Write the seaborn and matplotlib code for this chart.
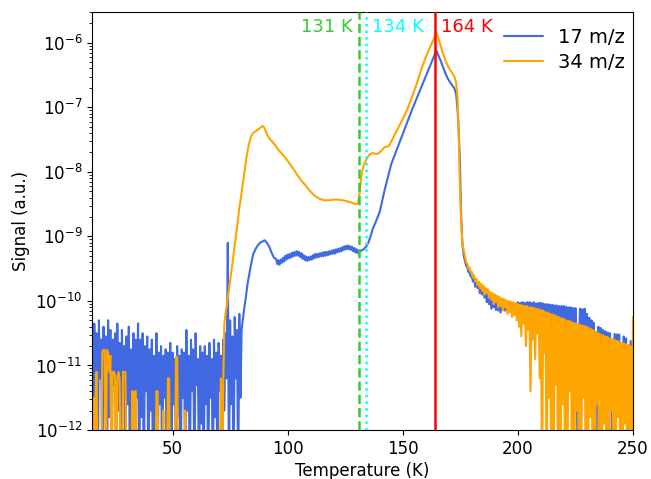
import numpy as np
import pandas as pd
import matplotlib
matplotlib.use("Agg")
import matplotlib.pyplot as plt
import seaborn as sns

B = -13.0  # readings at or below zero (shown at the bottom of the log axis)

# ---------------- 17 m/z (log10 of signal) ----------------
blue_noise_T = np.arange(15.0, 80.0, 0.5)
blue_noise_log = [
    -10.45, B, -10.35, -11.6, -10.5, B, -10.3, -11.2, -10.6, B,
    -10.4, -11.5, -10.55, B, -10.3, -11.8, -10.45, B, -10.6, -11.3,
    -10.5, B, -10.35, -11.7, -10.65, B, -10.45, -11.4, -10.7, B,
    -10.55, -11.6, -10.4, B, -10.75, -11.9, -10.5, B, -10.6, -11.5,
    -10.35, B, -10.6, -11.8, -10.5, B, -10.7, -11.4, -10.55, B,
    -10.75, -11.7, -10.6, B, -10.85, -12.2, -10.5, B, -10.8, -11.6,
    -10.7, B, -10.85, -11.5, -10.75, B, -10.8, -11.9, -10.65, B,
    -10.8, -11.6, -10.9, B, -10.7, -11.8, -10.85, B, -10.75, -11.5,
    -10.8, B, -10.45, -11.7, -10.85, B, -10.6, -11.4, -10.75, B,
    -10.5, -11.3, -10.9, B, -10.7, -11.9, -10.8, B, -10.7, -11.6,
    -10.85, B, -10.65, -11.5, -10.9, B, -10.6, -11.8, -10.8, B,
    -10.65, -11.4, -10.85, B, -10.6, -11.7, -10.5, -11.2, -9.1, B,
    -10.3, -11.6, -10.55, B, -10.25, -11.2, -10.45, B, -10.2, -11.5,
]
blue_rise_T = [80, 80.5, 81, 81.5, 82, 82.5, 83, 84, 85, 86, 87, 88, 89, 90, 91,
               92, 93, 94]
blue_rise_log = [-10.45, -10.3, -10.15, -10.03, -9.9, -9.75, -9.65, -9.45, -9.28,
                 -9.2, -9.14, -9.1, -9.08, -9.06, -9.1, -9.16, -9.25, -9.33]
blue_plateau_T = np.arange(95.0, 131.0, 0.5)
blue_plateau_log = [
    -9.35, -9.43, -9.37, -9.44, -9.36, -9.41, -9.33, -9.39, -9.30, -9.36,
    -9.28, -9.34, -9.27, -9.33, -9.25, -9.31, -9.24, -9.30, -9.23, -9.30,
    -9.24, -9.32, -9.26, -9.35, -9.29, -9.37, -9.31, -9.38, -9.32, -9.37,
    -9.31, -9.36, -9.29, -9.34, -9.27, -9.33, -9.27, -9.32, -9.26, -9.31,
    -9.25, -9.31, -9.24, -9.30, -9.24, -9.29, -9.23, -9.28, -9.22, -9.27,
    -9.21, -9.27, -9.20, -9.25, -9.19, -9.24, -9.18, -9.23, -9.16, -9.21,
    -9.15, -9.20, -9.14, -9.20, -9.15, -9.21, -9.16, -9.23, -9.18, -9.25,
    -9.20, -9.26,
]
blue_peak_T = [131, 132, 133, 134, 135, 136, 137, 138, 140, 142, 145, 148, 151,
               154, 157, 160, 162, 163, 164, 164.6, 165.5, 166.5, 167.5, 168.5,
               169.5, 170.5, 171.5, 172.5, 173.2, 173.8, 174.3, 174.8, 175.3,
               175.8]
blue_peak_log = [-9.24, -9.22, -9.2, -9.16, -9.1, -9.0, -8.88, -8.8, -8.62, -8.3,
                 -7.88, -7.6, -7.32, -7.04, -6.78, -6.52, -6.35, -6.26, -6.17,
                 -6.12, -6.2, -6.28, -6.38, -6.47, -6.55, -6.61, -6.66, -6.71,
                 -6.8, -7.04, -7.35, -7.8, -8.6, -9.05]
blue_tail_T = np.arange(176.0, 250.01, 0.5)
blue_tail_log = [
    -9.15, -9.30, -9.38, -9.45, -9.48, -9.55, -9.56, -9.62,
    -9.63, -9.70, -9.66, -9.78, -9.72, -9.80, -9.76, -9.88,
    -9.80, -9.90, -9.84, -9.95, -9.86, -10.02, -9.90, -10.05,
    -9.92, -10.12, -9.95, -10.10, -9.96, -10.14, -9.98, -10.15,
    -9.99, -10.18, -10.00, -10.12, -10.01, -10.15, -10.02, -10.14,
    -10.02, -10.16, -10.03, -10.12, -10.03, -10.15, -10.04, -10.13,
    -10.02, -10.18, -10.03, -10.14, -10.02, -10.22, -10.03, -10.16, -10.02, -10.20,
    -10.02, -10.25, -10.03, -10.18, -10.02, -10.28, -10.04, -10.20, -10.03, -10.26,
    -10.03, -10.30, -10.04, -10.22, -10.05, -10.35, -10.05, -10.25, -10.06, -10.40,
    -10.06, -10.32, -10.07, -10.45, -10.07, -10.36, -10.08, -10.50, -10.08, -10.40,
    -10.08, -10.55, -10.09, -10.42, -10.10, -10.60, -10.10, -10.48, -10.11, -10.65,
    -10.11, -10.52, B, -10.70, -10.12, -10.58, -10.13, -10.75, -10.12, -10.62,
    -10.20, -10.80, -10.26, -10.68, -10.30, -10.85, -10.34, -11.0, B, -10.75,
    -10.40, -10.95, -10.42, -10.80, -10.45, -11.0, -10.47, -10.88, -10.49, -11.1,
    -10.50, -10.92, B, -11.05, -10.51, -10.97, -10.52, -11.15, -10.52, -10.95,
    B, -11.05, -10.55, -11.2, -10.58, -11.0, B, -11.1, -10.62, -11.05,
    -10.65,
]

# ---------------- 34 m/z (log10 of signal) ----------------
orange_noise_T = np.arange(15.0, 72.01, 0.5)
orange_noise_log = [
    B, -11.5, B, -11.5, -11.1, B, B, B, B, -10.78,
    -10.76, -10.76, B, -10.76, -10.8, -11.1, -10.85, B, -11.1, -11.1,
    -11.15, B, -11.2, -11.1, -11.2, B, B, -11.1, -11.1, -11.1,
    B, B, B, B, B, -11.4, B, -11.4, -11.4, B,
    B, B, B, B, B, B, B, B, B, B,
    B, B, B, B, B, B, -11.4, -11.4, B, B,
    B, B, -11.7, B, B, B, -11.2, -11.2, B, B,
    B, B, B, -10.87, -10.87, B, B, B, B, B,
    B, -11.7, B, B, B, B, B, B, B, B,
    B, B, B, B, B, B, B, B, B, B,
    B, B, B, B, B, B, B, B, B, B,
    B, B, -11.2, B, -11.3,
]
orange_peak_T = [72.5, 73, 73.5, 74, 74.5, 75, 75.5, 76, 76.5, 77, 77.5, 78, 78.5,
                 79, 79.5, 80, 81, 82, 83, 84, 85, 86, 87, 88, 89, 89.5, 90, 91,
                 92, 93, 94, 95, 96, 98, 100, 102, 104, 106, 108, 110, 112, 114,
                 116, 118, 120, 122, 124, 126, 128, 129.5, 130.5, 131, 131.5, 132,
                 132.5, 133, 134, 135, 136, 137, 138, 139, 140, 141, 142, 144, 146,
                 148, 150, 152, 154, 156, 158, 160, 161, 162, 163, 164, 164.6,
                 165.5, 166.5, 167.5, 168.5, 169.5, 170.5, 171.5, 172.5, 173.2,
                 173.8, 174.3, 174.8, 175.3, 175.8]
orange_peak_log = [-10.35, -10.2, -10.08, -9.95, -9.82, -9.68, -9.55, -9.42, -9.28,
                   -9.14, -9.0, -8.86, -8.72, -8.55, -8.45, -8.32, -8.06, -7.8,
                   -7.6, -7.46, -7.4, -7.37, -7.35, -7.32, -7.29, -7.3, -7.33,
                   -7.42, -7.48, -7.52, -7.56, -7.61, -7.66, -7.74, -7.83, -7.93,
                   -8.04, -8.14, -8.22, -8.31, -8.38, -8.42, -8.44, -8.44, -8.43,
                   -8.43, -8.44, -8.46, -8.48, -8.5, -8.49, -8.4, -8.25, -8.08,
                   -7.97, -7.9, -7.82, -7.76, -7.72, -7.71, -7.72, -7.72, -7.7,
                   -7.66, -7.62, -7.6, -7.46, -7.32, -7.18, -7.03, -6.84, -6.64,
                   -6.42, -6.22, -6.14, -6.06, -5.98, -5.89, -5.84, -5.93, -6.05,
                   -6.17, -6.27, -6.35, -6.42, -6.47, -6.53, -6.62, -6.85, -7.4,
                   -8.2, -8.75, -9.05]
orange_tail_T = np.arange(176.0, 250.01, 0.5)
orange_tail_log = [
    -9.12, -9.22, -9.30, -9.40, -9.42, -9.50, -9.48, -9.55,
    -9.55, -9.64, -9.60, -9.70, -9.66, -9.76, -9.70, -9.80,
    -9.73, -9.84, -9.76, -9.90, -9.80, -9.88, -9.82, -9.95,
    -9.86, -9.98, -9.88, -10.05, -9.90, -10.02, -9.92, -10.10,
    -9.94, -10.08, -9.96, -10.15, -9.97, -10.10, -9.99, -10.20,
    -10.00, -10.18, -10.01, -10.25, -10.02, -10.22, -10.04, -10.30,
    -10.05, -10.40, -10.06, -10.55, -10.07, -10.35, -10.08, -10.70, -10.08, -10.45,
    -10.10, -11.4, -10.10, -10.60, -10.11, -10.90, -10.12, -10.50, -10.13, -11.2,
    -10.14, B, -10.15, -10.80, -10.17, B, -10.18, -11.5, -10.20, B,
    -10.21, B, -10.22, -11.3, -10.24, B, -10.25, B, -10.27, -11.6,
    -10.28, B, -10.30, B, -10.31, -11.4, -10.32, B, -10.34, B,
    -10.35, -11.7, -10.36, B, -10.37, B, -10.38, -11.5, -10.39, B,
    -10.40, B, -10.42, -11.8, -10.44, B, -10.46, B, -10.48, -11.6,
    -10.50, B, -10.52, B, -10.53, -11.9, -10.55, B, -10.56, B,
    -10.58, -11.7, -10.59, B, -10.60, B, -10.62, -11.8, -10.63, B,
    -10.65, B, -10.66, -11.9, -10.67, B, -10.68, B, -10.70, B,
    -10.25,
]

series_names = ["17 m/z", "34 m/z"]
series_colors = ["royalblue", "orange"]
line_T = [131, 134, 164]
line_labels = ["131 K", "134 K", "164 K"]
line_colors = ["limegreen", "cyan", "red"]
line_styles = ["--", ":", "-"]

blue_T = np.concatenate([blue_noise_T, blue_rise_T, blue_plateau_T, blue_peak_T,
                         blue_tail_T])
blue_sig = 10.0 ** np.concatenate([blue_noise_log, blue_rise_log, blue_plateau_log,
                                   blue_peak_log, blue_tail_log])
orange_T = np.concatenate([orange_noise_T, orange_peak_T, orange_tail_T])
orange_sig = 10.0 ** np.concatenate([orange_noise_log, orange_peak_log,
                                     orange_tail_log])

df = pd.concat([
    pd.DataFrame({"T": blue_T, "signal": blue_sig, "series": series_names[0]}),
    pd.DataFrame({"T": orange_T, "signal": orange_sig, "series": series_names[1]}),
], ignore_index=True)

sns.set_style("ticks")
plt.rcParams["font.family"] = ["DejaVu Sans"]
plt.rcParams.update({"text.color": "black", "axes.labelcolor": "black",
                     "xtick.color": "black", "ytick.color": "black",
                     "axes.edgecolor": "black"})

fig = plt.figure(figsize=(6.51, 4.79), dpi=100)
ax = fig.add_axes([0.1413, 0.1023, 0.831, 0.8727])

sns.lineplot(data=df, x="T", y="signal", hue="series", hue_order=series_names,
             palette=dict(zip(series_names, series_colors)), estimator=None,
             sort=False, linewidth=1.5, ax=ax)

ax.set_yscale("log")
ax.set_xlim(15, 250)
ax.set_ylim(1e-12, 3e-6)

for xv, lab, c, ls, dx, ha in zip(line_T, line_labels, line_colors, line_styles,
                                  [-2.8, 2.7, 2.7], ["right", "left", "left"]):
    ax.axvline(xv, color=c, linestyle=ls, linewidth=1.8, zorder=5)
    ax.text(xv + dx, 0.965, lab, color=c, fontsize=13, ha=ha, va="center",
            transform=ax.get_xaxis_transform())

ax.set_xlabel("Temperature (K)", fontsize=12, labelpad=3)
ax.set_ylabel("Signal (a.u.)", fontsize=12)
ax.tick_params(axis="both", which="major", labelsize=12)
ax.set_xticks([50, 100, 150, 200, 250])

leg = ax.legend(loc="upper right", bbox_to_anchor=(1.0, 0.981), frameon=False,
                fontsize=14, labelspacing=0.3, borderaxespad=0.0)
for spine in ax.spines.values():
    spine.set_color("black")
    spine.set_linewidth(0.8)

fig.savefig("out.png", dpi=100)
